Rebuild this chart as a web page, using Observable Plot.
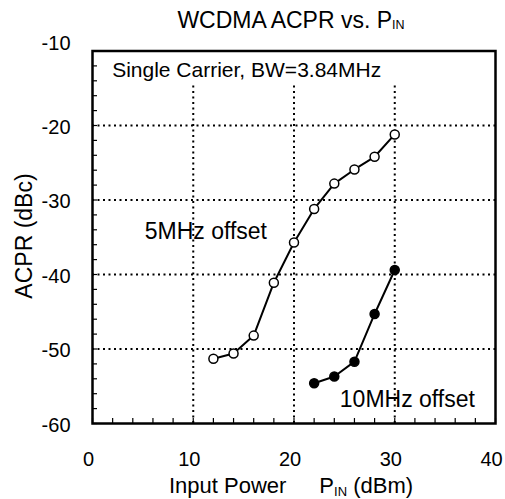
<!DOCTYPE html>
<html>
<head>
<meta charset="utf-8">
<script src="https://cdn.jsdelivr.net/npm/d3@7"></script>
<script src="https://cdn.jsdelivr.net/npm/@observablehq/plot@0.6"></script>
<style>
  body { margin: 0; background: #fff; }
  svg { font-family: "Liberation Sans", Arial, sans-serif; }
</style>
</head>
<body>
<div id="chart"></div>
<script>
// ---- data ----
const pin5 = [12, 14, 16, 18, 20, 22, 24, 26, 28, 30];
const acpr5 = [-51.3, -50.6, -48.2, -41.1, -35.7, -31.2, -27.8, -25.9, -24.2, -21.2];
const pin10 = [22, 24, 26, 28, 30];
const acpr10 = [-54.6, -53.7, -51.7, -45.3, -39.4];
const xTicks = [0, 10, 20, 30, 40];
const yTicks = [-60, -50, -40, -30, -20];
const yTopTick = [-10];
const xGrid = [10, 20, 30];
const yGrid = [-50, -40, -30, -20];
const xMinor = d3.range(0, 41, 2);
const yMinor = d3.range(-60, -9, 2);
const seriesLabels = ["5MHz offset", "10MHz offset"];
const labelX = [11.25, 31.25];
const labelY = [-34.2, -56.75];
const noteText = "Single Carrier, BW=3.84MHz";
const noteX = 1.95;
const noteY = -12.65;
const gridTop = -14.3;

const s5 = pin5.map((x, i) => ({x, y: acpr5[i]}));
const s10 = pin10.map((x, i) => ({x, y: acpr10[i]}));
const labels = seriesLabels.map((t, i) => ({t, x: labelX[i], y: labelY[i]}));
const fmt = d => String(d);

const W = 505, H = 499;
const chart = Plot.plot({
  width: W, height: H,
  marginLeft: 92, marginRight: 10, marginTop: 50.5, marginBottom: 76,
  style: {fontFamily: "Liberation Sans, Arial, sans-serif", background: "white"},
  x: {domain: [0, 40]},
  y: {domain: [-60, -10]},
  marks: [
    Plot.ruleX(xGrid, {y1: -60, y2: gridTop, stroke: "black", strokeWidth: 2, strokeDasharray: "2,3.5"}),
    Plot.ruleY(yGrid, {stroke: "black", strokeWidth: 2, strokeDasharray: "2,3.5"}),
    Plot.axisX({ticks: xMinor, tickSize: -5, tickFormat: () => "", label: null, strokeWidth: 1.2}),
    Plot.axisY({ticks: yMinor, tickSize: -5, tickFormat: () => "", label: null, strokeWidth: 1.2}),
    Plot.axisX({ticks: xTicks, tickSize: 0, tickPadding: 28, fontSize: 20, dx: -4, label: null, tickFormat: fmt}),
    Plot.axisY({ticks: yTicks, tickSize: 0, tickPadding: 22, fontSize: 20, dy: 2, label: null, tickFormat: fmt}),
    Plot.axisY({ticks: yTopTick, tickSize: 0, tickPadding: 22, fontSize: 20, dy: -7, label: null, tickFormat: fmt}),
    Plot.frame({stroke: "black", strokeWidth: 2.5}),
    Plot.line(s5, {x: "x", y: "y", stroke: "black", strokeWidth: 2}),
    Plot.line(s10, {x: "x", y: "y", stroke: "black", strokeWidth: 2}),
    Plot.dot(s5, {x: "x", y: "y", r: 4.5, fill: "white", stroke: "black", strokeWidth: 1.5}),
    Plot.dot(s10, {x: "x", y: "y", r: 4.5, fill: "black", stroke: "black", strokeWidth: 1.5}),
    Plot.text(labels, {x: "x", y: "y", text: "t", fontSize: 23, fill: "black", textAnchor: "middle"}),
    Plot.text([noteText], {x: noteX, y: noteY, text: d => d, fontSize: 21, fill: "black", textAnchor: "start"})
  ]
});
document.getElementById("chart").appendChild(chart);

// Titles with subscripts
const svg = d3.select(chart);
const title = svg.append("text")
  .attr("x", 291).attr("y", 28).attr("text-anchor", "middle")
  .attr("font-size", 23).attr("fill", "black");
title.append("tspan").text("WCDMA ACPR vs. P");
title.append("tspan").attr("font-size", 12.5).attr("dy", 1).text("IN");

const xl = svg.append("text")
  .attr("x", 291).attr("y", 493).attr("text-anchor", "middle")
  .attr("font-size", 22).attr("fill", "black");
xl.append("tspan").text("Input Power");
xl.append("tspan").attr("dx", 33).text("P");
xl.append("tspan").attr("font-size", 13).attr("dy", 2.5).text("IN");
xl.append("tspan").attr("dy", -2.5).text(" (dBm)");

svg.append("text")
  .attr("transform", "translate(31.5,236) rotate(-90)")
  .attr("text-anchor", "middle")
  .attr("font-size", 23).attr("fill", "black")
  .text("ACPR (dBc)");
</script>
</body>
</html>
